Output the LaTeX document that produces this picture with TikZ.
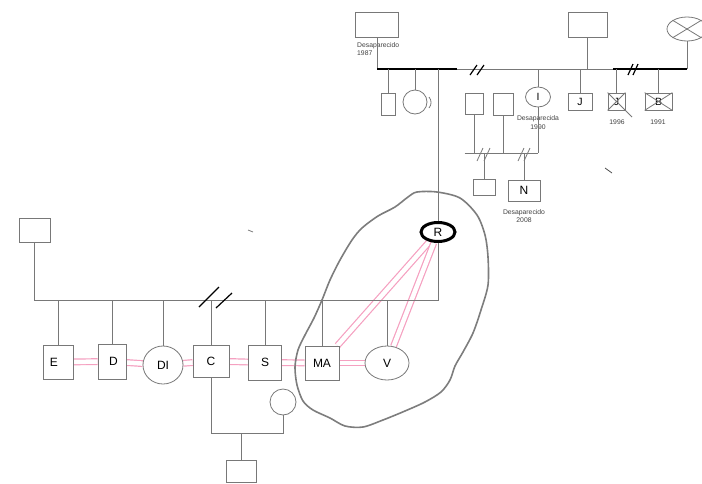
\documentclass[tikz,border=0pt]{standalone}
\usepackage{fontspec}
\setmainfont{Liberation Sans}
\usetikzlibrary{shapes.geometric,backgrounds}
\definecolor{kingray}{RGB}{120,120,120}
\definecolor{bondpink}{RGB}{245,160,192}
\definecolor{blobgray}{RGB}{125,125,125}

\begin{document}
\begin{tikzpicture}[x=1pt, y=-1pt,
  kin/.style={draw=kingray, line width=0.8pt},
  person/.style={draw=kingray, line width=0.8pt, fill=white, inner sep=0pt,
    font=\fontsize{12}{14}\selectfont},
  male/.style={person, rectangle},
  female/.style={person, ellipse},
  small/.style={font=\fontsize{10.5}{12}\selectfont},
  note/.style={font=\fontsize{6.8}{8.5}\selectfont, text=black!75, inner sep=0pt},
  bond/.style={draw=bondpink, line width=1.2pt, double=white, double distance=4.5pt},
  cut/.style={black, line width=1.2pt}]
\useasboundingbox (0,0) rectangle (702,483);

  % ---------------- top generation ----------------
  \coordinate (top) at (0,69);
  \node[male, minimum width=43pt, minimum height=25pt] (pa) at (377,24.5) {};
  \node[note, anchor=north west, align=left] at (357,42) {Desaparecido\\1987};
  \node[male, minimum width=39pt, minimum height=25pt] (pb) at (587.5,24.5) {};
  \node[female, minimum width=40pt, minimum height=24pt] (pc) at (687,29) {};
  \draw[kin] (pc.north west) -- (pc.south east);
  \draw[kin] (pc.south west) -- (pc.north east);
  \draw[kin] (pa) -- (pa |- top);
  \draw[kin] (pb) -- (pb |- top);
  \draw[kin] (pc) -- (pc |- top);
  % marriage line with the two breaks
  \draw[cut] (pa |- top) -- (457,69);
  \draw[kin] (457,69) -- (613,69);
  \draw[cut] (613,69) -- (pc |- top);
  \foreach \x in {470,477} \draw[cut] (\x,75) -- (\x+7,65);
  \foreach \x in {628,633} \draw[cut] (\x,75) -- (\x+5,64);

  % children on the top line
  \node[male, minimum width=14pt, minimum height=22pt] (ca) at (388,104) {};
  \node[female, minimum size=24pt] (cb) at (415,102) {};
  \draw[kin] (429,97) to[bend left=40] (429,108);
  \node[female, small, minimum width=25pt, minimum height=20pt] (I) at (538,97) {I};
  \node[note, align=center] at (538,122.5) {Desaparecida\\1990};
  \node[male, small, minimum width=24pt, minimum height=17pt] (J) at (580,101.5) {J};
  \node[male, small, minimum width=17pt, minimum height=17pt] (Jd) at (616.5,101.5) {J};
  \node[male, small, minimum width=27pt, minimum height=17pt] (B) at (658.5,101.5) {B};
  \draw[kin] (Jd.south west) -- (Jd.north east);
  \draw[kin] (Jd.north west) -- (632,117);
  \draw[kin] (B.south west) -- (B.north east);
  \draw[kin] (B.north west) -- (B.south east);
  \node[note] at (617,122) {1996};
  \node[note] at (658,122) {1991};
  \foreach \n in {ca,cb,I,J,Jd,B} \draw[kin] (\n) -- (\n |- top);

  % ---------------- family of I ----------------
  \coordinate (sub) at (0,153);
  \node[male, minimum width=18pt, minimum height=21pt] (sa) at (474,103.5) {};
  \node[male, minimum width=20pt, minimum height=22pt] (sb) at (503,104) {};
  \draw[kin] (sa.south west |- sub) -- (I |- sub);
  \foreach \n in {sa,sb,I} \draw[kin] (\n) -- (\n |- sub);
  \foreach \x in {477,484,518,524} \draw[kin] (\x,161) -- (\x+6,148);
  \node[male, minimum width=22pt, minimum height=16pt] (ka) at (484,187) {};
  \node[male, minimum width=32pt, minimum height=21pt] (N) at (524,190.5) {N};
  \node[note, align=center] at (524,216) {Desaparecido\\2008};
  \draw[kin] (ka) -- (ka |- sub);
  \draw[kin] (N) -- (N |- sub);

  % ---------------- bottom generation ----------------
  \coordinate (mid) at (0,300);
  \node[male, minimum width=31pt, minimum height=24pt] (G) at (34.5,230) {};
  \node[female, draw=black, line width=3pt, minimum width=34pt, minimum height=19pt] (R) at (438,232) {R};
  \draw[kin] (R) -- (R |- top);
  \draw[kin] (G) -- (G |- mid) -- (R |- mid) -- (R);
  \draw[cut] (199,307) -- (219,287);
  \draw[cut] (216,308) -- (232,293);

  \node[male, minimum width=30pt, minimum height=34pt] (E) at (58,362) {E\hspace*{8pt}};
  \node[male, minimum width=28pt, minimum height=35pt] (D) at (112,361.5) {\hspace*{3pt}D};
  \node[female, minimum width=40pt, minimum height=38pt] (DI) at (163,365) {DI};
  \node[male, minimum width=36pt, minimum height=32pt] (C) at (211,361) {C};
  \node[male, minimum width=33pt, minimum height=35pt] (S) at (265,362.5) {S};
  \node[male, minimum width=34pt, minimum height=34pt] (MA) at (322,363) {MA};
  \node[female, minimum width=44pt, minimum height=34pt] (V) at (387,363) {V};
  \foreach \n in {E,D,DI,C,S,MA,V} \draw[kin] (\n) -- (\n |- mid);

  % family of C
  \coordinate (low) at (0,433);
  \node[female, minimum size=26pt] (W) at (283,402) {};
  \node[male, minimum width=30pt, minimum height=22pt] (K) at (241,471) {};
  \draw[kin] (C) -- (C |- low) -- (W |- low) -- (W);
  \draw[kin] (K) -- (K |- low);

  % pink bonds
  \begin{scope}[on background layer]
    \foreach \a/\b in {E/D,D/DI,DI/C,C/S,S/MA,MA/V,MA/R,V/R}
      \draw[bond] (\a) -- (\b);
  \end{scope}

  % hand drawn outline round R, MA and V
  \draw[blobgray, line width=1.6pt] plot[smooth cycle, tension=0.5] coordinates {
    (417,192) (437,192) (460,198) (477,215) (485,235) (488,257) (488,285)
    (481,310) (473,333) (463,352) (455,366) (450,380) (441,392) (425,402)
    (405,411) (383,420) (363,427) (345,426) (330,418) (313,410) (303,401)
    (297,385) (295,367) (298,350) (305,335) (314,318) (322,300) (330,280)
    (340,260) (352,240) (362,228) (378,216) (395,207) (408,197)};

  % stray marks
  \draw[black!70, line width=0.8pt] (605,168) -- (612,173);
  \draw[kin] (248,230) -- (253,232);

\end{tikzpicture}
\end{document}
